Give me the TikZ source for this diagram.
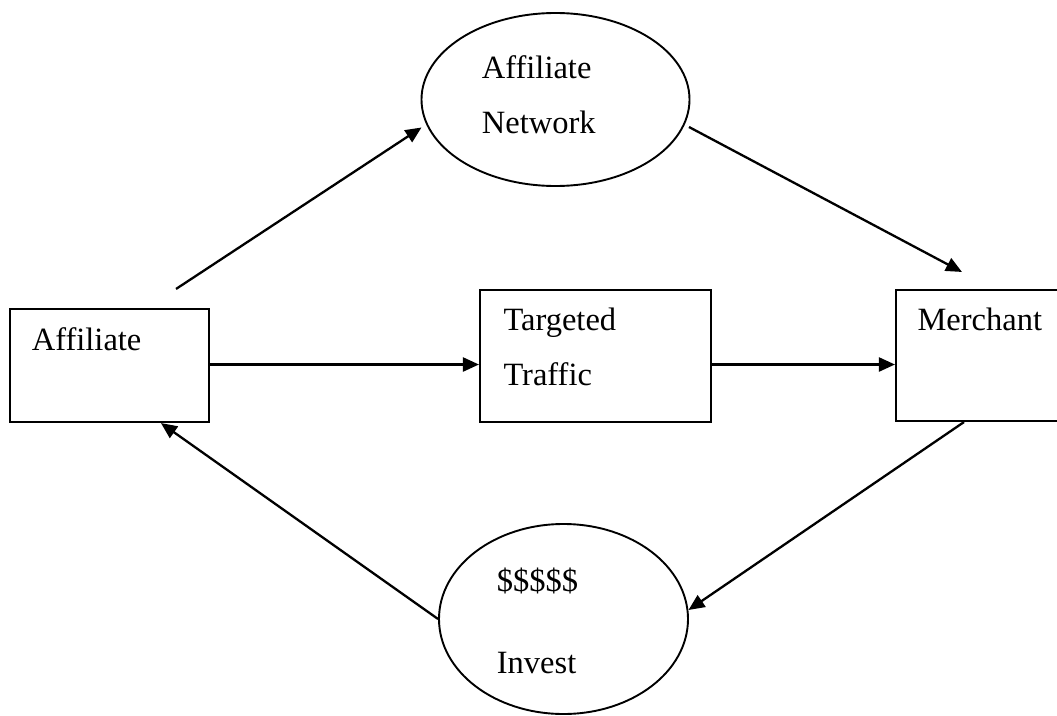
\documentclass[tikz,border=0pt]{standalone}
\usepackage{fontspec}
\setmainfont{Liberation Serif}
\usetikzlibrary{shapes.geometric,arrows.meta,calc}
\begin{document}
\begin{tikzpicture}[x=1pt,y=-1pt,
  box/.style={draw,line width=2.1pt,rectangle,inner sep=0pt},
  oval/.style={draw,line width=1.9pt,ellipse,inner sep=0pt},
  lbl/.style={anchor=base west,inner sep=0pt,font=\fontsize{32.5}{38}\selectfont},
  conn/.style={line width=2.3pt,-{Triangle[length=16pt,width=14pt]}}]
\useasboundingbox (0,0) rectangle (1057,715);
% shapes
\node[oval,minimum width=268pt,minimum height=173pt] (net) at (555.5,99.5) {};
\node[box,minimum width=199pt,minimum height=113pt] (aff) at (109.5,365.5) {};
\node[box,minimum width=231pt,minimum height=132pt] (traf) at (595.5,356) {};
\node[box,minimum width=170pt,minimum height=131pt] (merch) at (981,355.5) {};
\node[oval,minimum width=249pt,minimum height=190pt] (inv) at (563.5,619) {};
% texts
\node[lbl] (t1) at (481.7,78) {Affiliate};
\node[lbl] (t2) at (481.7,133) {Network};
\node[lbl] (t3) at (31.7,350) {Affiliate};
\node[lbl] (t4) at (503.3,330) {Targeted};
\node[lbl] (t5) at (503.3,385) {Traffic};
\node[lbl] (t6) at (917.3,330.7) {Merchant};
\node[lbl] (t7) at (496.7,591.7) {\$\$\$\$\$};
\node[lbl] (t8) at (496.7,673) {Invest};
% connectors
\draw[conn] ($(aff.north east)+(-34,-19)$) -- ($(net.center)+(-134,28)$);
\draw[conn] ($(net.center)+(133.5,27.5)$) -- ($(merch.north west)+(67,-17)$);
\draw[conn] ($(aff.east)+(0,-1)$) -- ($(traf.west)+(0,8.5)$);
\draw[conn] ($(traf.east)+(0,8.5)$) -- ($(merch.west)+(0,9)$);
\draw[conn] ($(merch.south west)+(69,0)$) -- ($(inv.center)+(125,-9)$);
\draw[conn] (inv.west) -- ($(aff.south west)+(152,0)$);
\end{tikzpicture}
\end{document}
